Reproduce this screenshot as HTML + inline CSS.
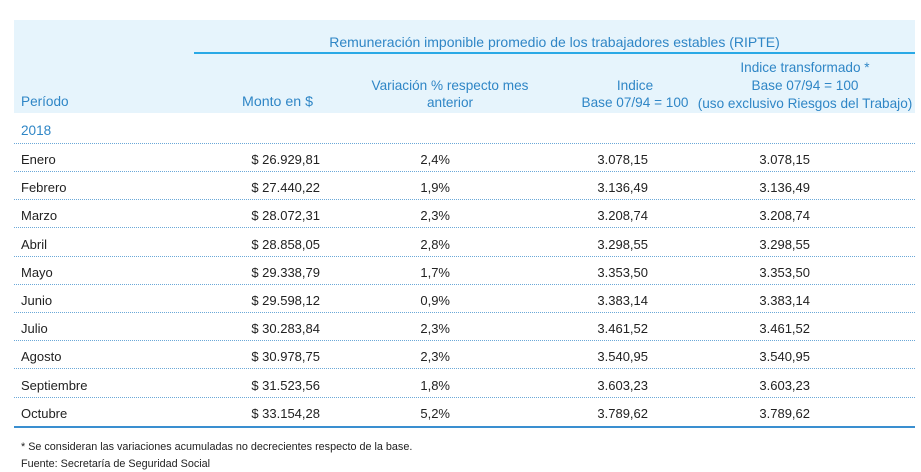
<!DOCTYPE html>
<html><head><meta charset="utf-8"><style>
body{margin:0;width:921px;height:472px;background:#fff;font-family:"Liberation Sans",sans-serif;position:relative;overflow:hidden}
.a{position:absolute;white-space:nowrap;font-size:13px;line-height:16px}
.h{color:#2f86c6;font-size:13.6px}
.d{color:#222}
.r{text-align:right}
.c{text-align:center}
.dl{position:absolute;left:14px;width:901px;border-top:1px dotted #6aa8d8}
</style></head><body>
<div style="position:absolute;left:14px;top:20px;width:901px;height:93px;background:#e6f4fc"></div>
<div style="position:absolute;left:194px;top:52px;width:721px;height:2px;background:#29a9e6"></div>
<div class="a h c" style="left:194px;width:721px;top:34px;font-size:14px">Remuneración imponible promedio de los trabajadores estables (RIPTE)</div>
<div class="a h" style="left:21px;top:94px">Período</div>
<div class="a h r" style="left:150px;width:163px;top:94px;font-size:14.2px">Monto en $</div>
<div class="a h c" style="left:340px;width:220px;top:77px;line-height:17px">Variación % respecto mes<br>anterior</div>
<div class="a h c" style="left:540px;width:190px;top:77px;line-height:17px">Indice<br>Base 07/94 = 100</div>
<div class="a h c" style="left:690px;width:230px;top:59px;line-height:18px">Indice transformado *<br>Base 07/94 = 100<br>(uso exclusivo Riesgos del Trabajo)</div>
<div class="a h" style="left:21px;top:123px">2018</div>
<div class="dl" style="top:143px"></div>
<div id="rows"></div>
<div style="position:absolute;left:14px;top:426px;width:901px;height:2px;background:#3a8fd0"></div>
<div class="a d" style="left:21px;top:439px;font-size:10.8px">* Se consideran las variaciones acumuladas no decrecientes respecto de la base.</div>
<div class="a d" style="left:21px;top:456px;font-size:10.8px">Fuente: Secretaría de Seguridad Social</div>
<script>
var d=[["Enero","26.929,81","2,4%","3.078,15"],["Febrero","27.440,22","1,9%","3.136,49"],["Marzo","28.072,31","2,3%","3.208,74"],["Abril","28.858,05","2,8%","3.298,55"],["Mayo","29.338,79","1,7%","3.353,50"],["Junio","29.598,12","0,9%","3.383,14"],["Julio","30.283,84","2,3%","3.461,52"],["Agosto","30.978,75","2,3%","3.540,95"],["Septiembre","31.523,56","1,8%","3.603,23"],["Octubre","33.154,28","5,2%","3.789,62"]];
var h="";
d.forEach(function(r,i){var t=152+i*28.2;
h+='<div class="a d" style="left:21px;top:'+t+'px">'+r[0]+'</div>';
h+='<div class="a d r" style="left:150px;width:170px;top:'+t+'px">$ '+r[1]+'</div>';
h+='<div class="a d r" style="left:350px;width:100px;top:'+t+'px">'+r[2]+'</div>';
h+='<div class="a d r" style="left:548px;width:100px;top:'+t+'px">'+r[3]+'</div>';
h+='<div class="a d r" style="left:710px;width:100px;top:'+t+'px">'+r[3]+'</div>';
if(i<9)h+='<div class="dl" style="top:'+(t+19)+'px"></div>';});
document.getElementById("rows").innerHTML=h;
</script>
</body></html>
